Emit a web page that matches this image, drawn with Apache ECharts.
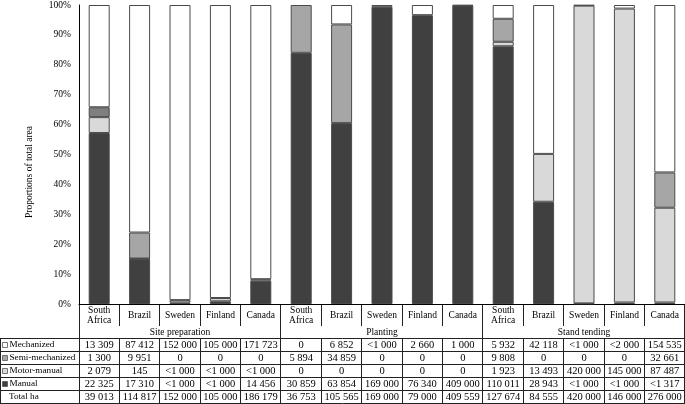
<!DOCTYPE html>
<html><head><meta charset="utf-8">
<script src="https://cdn.jsdelivr.net/npm/echarts@6/dist/echarts.min.js"></script>
<style>html,body{margin:0;padding:0;background:#fff}#c{width:685px;height:404px}</style>
</head><body><div id="c"></div>
<script>
// ---- data ----
const countries = ['South\nAfrica', 'Brazil', 'Sweden', 'Finland', 'Canada'];
const operations = ['Site preparation', 'Planting', 'Stand tending'];
const seriesNames = ['Manual', 'Motor-manual', 'Semi-mechanized', 'Mechanized'];
// proportions of total area (%), order: SP x5, PL x5, ST x5
const manualPct = [57.2, 15.1, 0.5, 0.9, 7.8, 84.0, 60.5, 99.4, 96.6, 99.8, 86.2, 34.2, 0.2, 0.5, 0.5];
const motorPct  = [5.3, 0.1, 0.8, 1.1, 0.5, 0, 0, 0, 0, 0, 1.5, 16.0, 99.6, 98.3, 31.7];
const semiPct   = [3.3, 8.7, 0, 0, 0, 16.0, 33.0, 0, 0, 0, 7.7, 0, 0, 0, 11.8];
const mechPct   = [34.2, 76.1, 98.7, 98.0, 91.7, 0, 6.5, 0.6, 3.4, 0.2, 4.6, 49.8, 0.2, 1.2, 56.0];
// table texts (ha)
const tableMechanized = ['13 309','87 412','152 000','105 000','171 723','0','6 852','<1 000','2 660','1 000','5 932','42 118','<1 000','<2 000','154 535'];
const tableSemi       = ['1 300','9 951','0','0','0','5 894','34 859','0','0','0','9 808','0','0','0','32 661'];
const tableMotor      = ['2 079','145','<1 000','<1 000','<1 000','0','0','0','0','0','1 923','13 493','420 000','145 000','87 487'];
const tableManual     = ['22 325','17 310','<1 000','<1 000','14 456','30 859','63 854','169 000','76 340','409 000','110 011','28 943','<1 000','<1 000','<1 317'];
const tableTotal      = ['39 013','114 817','152 000','105 000','186 179','36 753','105 565','169 000','79 000','409 559','127 674','84 555','420 000','146 000','276 000'];
const tableRowLabels  = ['Mechanized', 'Semi-mechanized', 'Motor-manual', 'Manual', 'Total ha'];
const yAxisName = 'Proportions of total area';

// ---- styles ----
const FONT = '"Liberation Serif", "Times New Roman", serif';
const colors = {'Manual': '#404040', 'Motor-manual': '#d9d9d9', 'Semi-mechanized': '#a6a6a6', 'Mechanized': '#ffffff'};
const legendSwatch = ['#ffffff', '#a6a6a6', '#d9d9d9', '#404040', null];

const categories = [];
operations.forEach(op => countries.forEach(c => categories.push(op + '|' + c)));
const valuesBySeries = {'Manual': manualPct, 'Motor-manual': motorPct, 'Semi-mechanized': semiPct, 'Mechanized': mechPct};

const chart = echarts.init(document.getElementById('c'), null, {renderer: 'canvas'});
const gridTop = 3, gridBottom = 100, gridLeft = 79;

chart.setOption({
  animation: false,
  backgroundColor: '#fff',
  grid: {left: gridLeft, right: 0, top: gridTop, bottom: gridBottom, containLabel: false},
  xAxis: {
    type: 'category', data: categories,
    axisLabel: {show: false}, axisTick: {show: false},
    axisLine: {lineStyle: {color: '#000', width: 1}}
  },
  yAxis: {
    type: 'value', min: 0, max: 100, interval: 10,
    axisLabel: {formatter: '{value}%', fontFamily: FONT, fontSize: 9.5, color: '#000', margin: 8},
    axisLine: {show: true, lineStyle: {color: '#000', width: 1}},
    axisTick: {show: false}, splitLine: {show: false}
  },
  series: seriesNames.map(name => ({
    name, type: 'bar', stack: 'total', barWidth: 21,
    data: valuesBySeries[name].map((v, i) => {
      if (v === 0) return null;
      if (name === 'Semi-mechanized' && i === 0) return {value: v, itemStyle: {color: '#7f7f7f'}};
      return v;
    }),
    itemStyle: {color: colors[name], borderColor: '#4a4a4a', borderWidth: 1}
  }))
});

// ---- table drawn below the axis ----
const centers = categories.map((c, i) => chart.convertToPixel({xAxisIndex: 0}, i));
const colW = centers[1] - centers[0];
const bounds = [];
for (let k = 0; k <= categories.length; k++) bounds.push(centers[0] - colW / 2 + k * colW);
const axisY = chart.convertToPixel({yAxisIndex: 0}, 0);
const W = 685, H = 404;
const catRowBottom = axisY + 22;
const dataTop = axisY + 34.5;
const rowH = (H - 0.5 - dataTop) / 5;
const px = v => Math.round(v - 0.5) + 0.5;
const g = [];
const line = (x1, y1, x2, y2) => g.push({type: 'line', shape: {x1, y1, x2, y2}, style: {stroke: '#222', lineWidth: 1}, silent: true});
const text = (t, x, y, align, size) => g.push({type: 'text', x, y, style: {text: t, font: (size || 9.5) + 'px ' + FONT, fill: '#000', align: align || 'center', verticalAlign: 'middle', lineHeight: 10}, silent: true});

// vertical lines
bounds.forEach((b, k) => {
  const x = px(Math.min(b, W - 0.5));
  if (k % 5 === 0) line(x, axisY, x, H - 0.5);
  else { line(x, axisY, x, catRowBottom); line(x, dataTop, x, H - 0.5); }
});
line(0.5, dataTop, 0.5, H - 0.5);
// horizontal lines
for (let r = 0; r <= 5; r++) { const y = px(dataTop + r * rowH); line(0, y, W, y); }
// category labels
categories.forEach((c, i) => text(countries[i % 5], centers[i], axisY + 11.5));
// group labels
operations.forEach((op, j) => text(op, (bounds[j * 5] + bounds[j * 5 + 5]) / 2, axisY + 28.5));
// row labels and values
const rows = [tableMechanized, tableSemi, tableMotor, tableManual, tableTotal];
rows.forEach((row, r) => {
  const cy = dataTop + r * rowH + rowH / 2;
  if (legendSwatch[r]) {
    g.push({type: 'rect', shape: {x: 2.5, y: Math.round(cy - 3) + 0.5, width: 5, height: 5}, style: {fill: legendSwatch[r], stroke: '#555', lineWidth: 0.8}, silent: true});
    text(tableRowLabels[r], 9.5, cy, 'left', 9.2);
  } else {
    text(tableRowLabels[r], 9, cy, 'left', 9.2);
  }
  row.forEach((v, i) => text(v, centers[i], cy, 'center', 10.5));
});
// y axis name
g.push({type: 'text', x: 29, y: 172, rotation: Math.PI / 2, style: {text: yAxisName, font: '9.5px ' + FONT, fill: '#000', align: 'center', verticalAlign: 'middle'}, silent: true});

chart.setOption({graphic: {elements: g}});
</script>
</body></html>
